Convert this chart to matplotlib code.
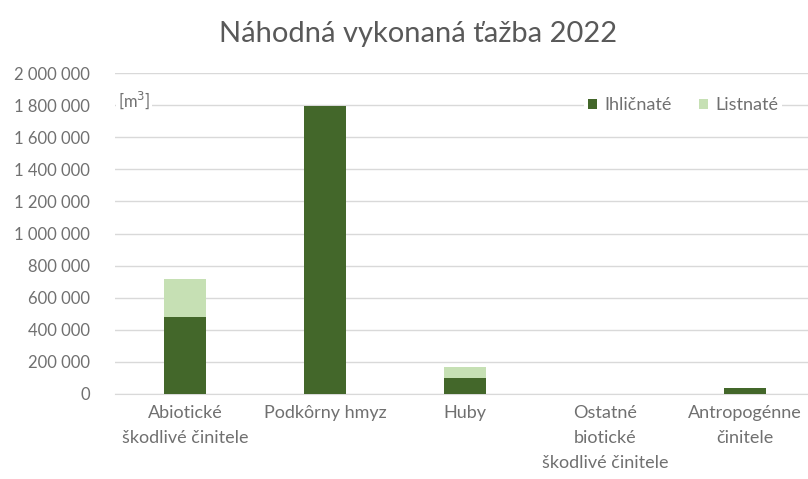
import numpy as np
import matplotlib.pyplot as plt

plt.rcParams['font.family'] = ['Lato', 'DejaVu Sans']

kategorie = ['Abiotické\nškodlivé činitele', 'Podkôrny hmyz', 'Huby',
             'Ostatné\nbiotické\nškodlivé činitele', 'Antropogénne\nčinitele']
ihlicnate = [480000, 1795000, 98000, 0, 36000]
listnate = [238000, 0, 68000, 0, 2000]

tmava = '#43672a'
svetla = '#c6e0b4'
seda = '#707070'

fig = plt.figure(figsize=(8.08, 4.79), dpi=100)
ax = fig.add_axes([115/808, 1-394/479, (808-115)/808, 321/479])

x = np.arange(len(kategorie))
ax.bar(x, ihlicnate, width=0.3, color=tmava, label='Ihličnaté', zorder=3)
ax.bar(x, listnate, width=0.3, bottom=ihlicnate, color=svetla, label='Listnaté', zorder=3)

ax.set_xlim(-0.5, 4.45)
ax.set_ylim(0, 2000000)
ax.set_yticks(np.arange(0, 2000001, 200000))
ax.set_yticklabels([f'{v:,}'.replace(',', ' ') if v else '0' for v in range(0, 2000001, 200000)])
ax.yaxis.grid(True, color='#d9d9d9', linewidth=1, zorder=0)
ax.set_xticks(x)
ax.set_xticklabels(kategorie, linespacing=1.7)
ax.tick_params(axis='both', length=0, colors=seda)
ax.tick_params(axis='x', pad=8, labelsize=13)
ax.tick_params(axis='y', pad=18, labelsize=12)
for s in ax.spines.values():
    s.set_visible(False)
ax.spines['bottom'].set_visible(True)
ax.spines['bottom'].set_color('#d9d9d9')

ax.text(-0.48, 1830000, '[m$^3$]', color=seda, fontsize=12, va='center',
        bbox=dict(facecolor='white', edgecolor='none', pad=1), zorder=4)

leg = ax.legend(loc='center right', bbox_to_anchor=(0.975, 1800000/2000000),
                ncol=2, frameon=True, fontsize=13, handlelength=0.5,
                handleheight=0.5, handletextpad=0.4, columnspacing=1.5,
                borderpad=0.2)
leg.get_frame().set_edgecolor('none')
leg.get_frame().set_facecolor('white')
leg.get_frame().set_alpha(1)
for t in leg.get_texts():
    t.set_color(seda)

fig.text(418/808, 1-34/479, 'Náhodná vykonaná ťažba 2022', ha='center', va='center',
         fontsize=21, color='#595959')

fig.savefig('out.png', dpi=100)
